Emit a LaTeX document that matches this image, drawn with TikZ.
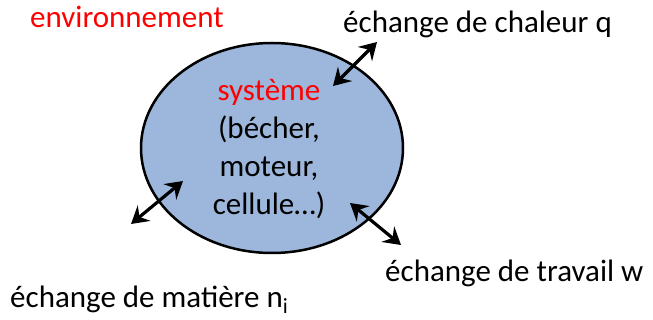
\documentclass[tikz,border=0pt]{standalone}
\usepackage{fontspec}
\setmainfont{Carlito}
\usetikzlibrary{shapes.geometric,arrows.meta}
\definecolor{sysblue}{HTML}{9CB7DB}
\definecolor{sysred}{HTML}{FF0000}
\tikzset{
  label text/.style={anchor=base west, inner sep=0pt, font=\fontsize{31}{38}\selectfont},
  exchange/.style={line width=3.2pt, {Stealth[length=17pt,width=20pt,inset=6pt]}-{Stealth[length=17pt,width=20pt,inset=6pt]}},
}
\begin{document}
\begin{tikzpicture}[x=1pt,y=-1pt]
  \useasboundingbox (0,0) rectangle (653,320);
  % the system
  \node (sys) [ellipse, draw=black, line width=2.5pt, fill=sysblue,
    minimum width=262pt, minimum height=210pt, inner sep=0pt] at (272,148) {};
  \node (systxt) [align=center, inner sep=0pt, font=\fontsize{31}{38}\selectfont,
    anchor=base] at (269,215)
    {\textcolor{sysred}{système}\\(bécher,\\moteur,\\cellule…)};
  % surroundings and exchanges
  \node (env) [label text, text=sysred] at (30,28) {environnement};
  \node (heat) [label text] at (343,33) {échange de chaleur q};
  \node (work) [label text] at (385,282) {échange de travail w};
  \node (matter) [label text] at (10,307) {échange de matière n\textsubscript{i}};
  % arrow ends
  \coordinate (heatIn) at (333,86);
  \coordinate (heatOut) at (377,42);
  \coordinate (matIn) at (183,181);
  \coordinate (matOut) at (131,224);
  \coordinate (workIn) at (350,203);
  \coordinate (workOut) at (401,245);
  \draw[exchange] (heatIn) -- (heatOut);
  \draw[exchange] (matIn) -- (matOut);
  \draw[exchange] (workIn) -- (workOut);
\end{tikzpicture}
\end{document}
